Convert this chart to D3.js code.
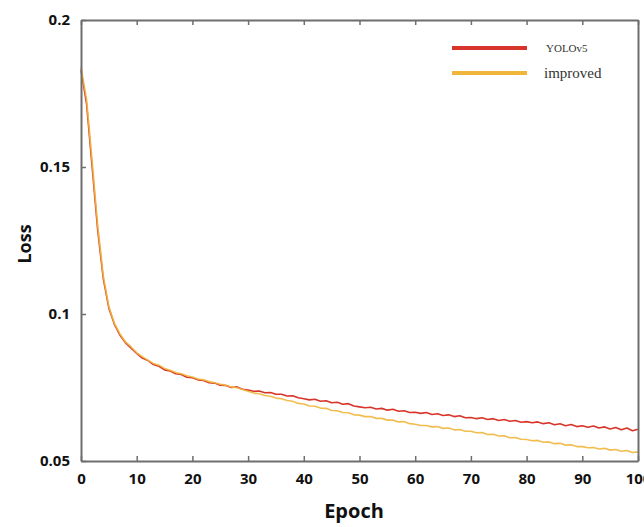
<!DOCTYPE html>
<html>
<head>
<meta charset="utf-8">
<script src="https://cdn.jsdelivr.net/npm/d3@7"></script>
<style>
  body { margin: 0; background: #fff; }
  svg { display: block; }
  .tick text { font-family: "Open Sans", sans-serif; font-weight: 700; font-size: 15px; fill: #111; }
</style>
</head>
<body>
<div id="chart"></div>
<script>
// epochs 0..100
var epochs = d3.range(0, 101);

// YOLOv5 loss per epoch
var yoloLoss = [
  0.1830, 0.1715, 0.1500, 0.1285, 0.1120, 0.1020, 0.0965, 0.0928, 0.0902, 0.0884,
  0.0866, 0.0850, 0.0842, 0.0828, 0.0822, 0.0810, 0.0806, 0.0797, 0.0794, 0.0785,
  0.0783, 0.0776, 0.0774, 0.0766, 0.0765, 0.0758, 0.0757, 0.0750, 0.0752, 0.0744,
  0.0741, 0.0737, 0.0738, 0.0732, 0.0733, 0.0727, 0.0727, 0.0721, 0.0722, 0.0715,
  0.0712, 0.0708, 0.0710, 0.0703, 0.0705, 0.0698, 0.0700, 0.0693, 0.0695, 0.0687,
  0.0684, 0.0681, 0.0683, 0.0677, 0.0679, 0.0673, 0.0676, 0.0669, 0.0671, 0.0665,
  0.0666, 0.0662, 0.0665, 0.0658, 0.0661, 0.0655, 0.0657, 0.0651, 0.0654, 0.0647,
  0.0648, 0.0644, 0.0647, 0.0641, 0.0644, 0.0638, 0.0641, 0.0635, 0.0638, 0.0632,
  0.0634, 0.0630, 0.0633, 0.0627, 0.0630, 0.0623, 0.0627, 0.0620, 0.0624, 0.0617,
  0.0620, 0.0615, 0.0619, 0.0612, 0.0616, 0.0609, 0.0614, 0.0606, 0.0612, 0.0603,
  0.0608
];

// improved model loss per epoch
var improvedLoss = [
  0.1840, 0.1730, 0.1520, 0.1300, 0.1130, 0.1025, 0.0968, 0.0932, 0.0905, 0.0888,
  0.0868, 0.0855, 0.0843, 0.0832, 0.0826, 0.0815, 0.0809, 0.0801, 0.0797, 0.0790,
  0.0786, 0.0779, 0.0776, 0.0770, 0.0766, 0.0761, 0.0758, 0.0752, 0.0749, 0.0743,
  0.0737, 0.0731, 0.0729, 0.0723, 0.0720, 0.0714, 0.0712, 0.0706, 0.0703, 0.0696,
  0.0694, 0.0687, 0.0686, 0.0680, 0.0679, 0.0672, 0.0671, 0.0665, 0.0664, 0.0657,
  0.0656, 0.0651, 0.0651, 0.0645, 0.0645, 0.0639, 0.0639, 0.0633, 0.0634, 0.0627,
  0.0625, 0.0621, 0.0621, 0.0616, 0.0617, 0.0611, 0.0612, 0.0606, 0.0607, 0.0601,
  0.0601, 0.0596, 0.0597, 0.0590, 0.0591, 0.0585, 0.0586, 0.0579, 0.0580, 0.0574,
  0.0573, 0.0569, 0.0570, 0.0564, 0.0565, 0.0559, 0.0560, 0.0554, 0.0555, 0.0549,
  0.0549, 0.0545, 0.0546, 0.0541, 0.0543, 0.0537, 0.0539, 0.0533, 0.0536, 0.0529,
  0.0531
];

var seriesNames = ["YOLOv5", "improved"];
var seriesColors = ["#d8352a", "#f0b63c"];
var xTicks = [0, 10, 20, 30, 40, 50, 60, 70, 80, 90, 100];
var yTicks = [0.05, 0.1, 0.15, 0.2];
var yTickLabels = ["0.05", "0.1", "0.15", "0.2"];

var W = 644, H = 527;
var margin = {left: 81, right: 6, top: 20, bottom: 66};

var svg = d3.select("#chart").append("svg")
  .attr("width", W).attr("height", H);

var x = d3.scaleLinear().domain([0, 100]).range([margin.left, W - margin.right]);
var y = d3.scaleLinear().domain([0.05, 0.2]).range([H - margin.bottom, margin.top]);

// lines
var series = [yoloLoss, improvedLoss];
var line = d3.line()
  .x(function(d, i) { return x(epochs[i]); })
  .y(function(d) { return y(d); });

series.forEach(function(s, k) {
  svg.append("path")
    .datum(s)
    .attr("fill", "none")
    .attr("stroke", seriesColors[k])
    .attr("stroke-width", 1.6)
    .attr("stroke-opacity", k == 1 ? 0.9 : 1)
    .attr("stroke-linejoin", "round")
    .attr("d", line);
});

// frame + inner ticks
var axisColor = "#6e6e6e";
var gBottom = svg.append("g")
  .attr("transform", "translate(0," + y(0.05) + ")")
  .call(d3.axisBottom(x).tickValues(xTicks).tickSizeInner(-5).tickSizeOuter(0).tickPadding(12));

var gTop = svg.append("g")
  .attr("transform", "translate(0," + y(0.2) + ")")
  .call(d3.axisTop(x).tickValues(xTicks).tickSizeInner(-5).tickSizeOuter(0).tickFormat(""));

var gLeft = svg.append("g")
  .attr("transform", "translate(" + x(0) + ",0)")
  .call(d3.axisLeft(y).tickValues(yTicks).tickSizeInner(-5).tickSizeOuter(0)
    .tickPadding(11)
    .tickFormat(function(d, i) { return yTickLabels[i]; }));

var gRight = svg.append("g")
  .attr("transform", "translate(" + x(100) + ",0)")
  .call(d3.axisRight(y).tickValues(yTicks).tickSizeInner(0).tickSizeOuter(0).tickFormat(""));

[gBottom, gTop, gLeft, gRight].forEach(function(g) {
  g.select(".domain").attr("stroke", axisColor).attr("stroke-width", 2);
  g.selectAll(".tick line").attr("stroke", axisColor).attr("stroke-width", 1.5);
});

// axis titles
svg.append("text")
  .attr("x", 354).attr("y", 518)
  .attr("text-anchor", "middle")
  .style("font-family", "'Open Sans', sans-serif")
  .style("font-weight", 700)
  .style("font-size", "20px")
  .attr("fill", "#111")
  .text("Epoch");

svg.append("text")
  .attr("transform", "translate(31,244) rotate(-90)")
  .attr("text-anchor", "middle")
  .style("font-family", "'Open Sans', sans-serif")
  .style("font-weight", 700)
  .style("font-size", "18px")
  .attr("fill", "#111")
  .text("Loss");

// legend
var legendY = [48, 73];
var legendFont = [11, 15];
seriesNames.forEach(function(name, i) {
  svg.append("line")
    .attr("x1", 452).attr("x2", 527)
    .attr("y1", legendY[i]).attr("y2", legendY[i])
    .attr("stroke", seriesColors[i])
    .attr("stroke-width", 4);
  svg.append("text")
    .attr("x", i == 0 ? 546 : 544)
    .attr("y", legendY[i])
    .attr("dy", "0.35em")
    .style("font-family", "'Liberation Serif', 'DejaVu Serif', serif")
    .style("font-size", legendFont[i] + "px")
    .attr("fill", "#333")
    .text(name);
});
</script>
</body>
</html>
